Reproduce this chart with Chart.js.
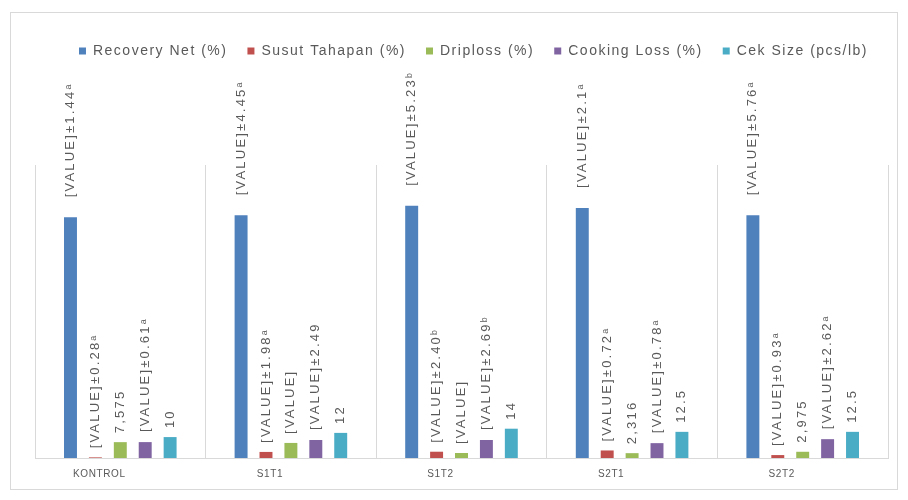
<!DOCTYPE html>
<html>
<head>
<meta charset="utf-8">
<script src="https://cdn.jsdelivr.net/npm/chart.js@4"></script>
<style>
  html, body { margin: 0; padding: 0; background: #fff; }
  #wrap { width: 908px; height: 500px; position: relative; }
</style>
</head>
<body>
<div id="wrap"><canvas id="chart" width="908" height="500"></canvas></div>
<script>
const categories = ['KONTROL', 'S1T1', 'S1T2', 'S2T1', 'S2T2'];

const seriesNames = ['Recovery Net (%)', 'Susut Tahapan (%)', 'Driploss (%)', 'Cooking Loss (%)', 'Cek Size (pcs/lb)'];

const recoveryNet = [115, 116, 120.5, 119.5, 116];
const susutTahapan = [0.3, 2.9, 3.0, 3.6, 1.4];
const driploss = [7.575, 7.2, 2.4, 2.316, 2.975];
const cookingLoss = [7.6, 8.6, 8.6, 7.1, 9.0];
const cekSize = [10, 12, 14, 12.5, 12.5];

// label texts as printed in the source chart
const recoveryLabels = ['[VALUE]±1.44ᵃ', '[VALUE]±4.45ᵃ', '[VALUE]±5.23ᵇ', '[VALUE]±2.1ᵃ', '[VALUE]±5.76ᵃ'];
const susutLabels = ['[VALUE]±0.28ᵃ', '[VALUE]±1.98ᵃ', '[VALUE]±2.40ᵇ', '[VALUE]±0.72ᵃ', '[VALUE]±0.93ᵃ'];
const driplossLabels = ['7,575', '[VALUE]', '[VALUE]', '2,316', '2,975'];
const cookingLabels = ['[VALUE]±0.61ᵃ', '[VALUE]±2.49', '[VALUE]±2.69ᵇ', '[VALUE]±0.78ᵃ', '[VALUE]±2.62ᵃ'];
const cekLabels = ['10', '12', '14', '12.5', '12.5'];

const COLORS = ['#4F81BD', '#C0504D', '#9BBB59', '#8064A2', '#4BACC6'];
const LABEL_GAP = [20, 9, 9, 10, 9];

const allValues = [recoveryNet, susutTahapan, driploss, cookingLoss, cekSize];
const allLabels = [recoveryLabels, susutLabels, driplossLabels, cookingLabels, cekLabels];

// the source text is widely tracked; also draws the outer frame
const spacing = {
    id: 'spacing',
    beforeUpdate(chart) { chart.ctx.letterSpacing = '1.5px'; },
    afterLayout(chart) {
        // legend sits a little right of centre in the source
        chart.legend.left += 12;
        chart.legend.right += 12;
        const xs = chart.scales.x;
        if (!xs._tightLabels) {
            const orig = xs.drawLabels.bind(xs);
            xs.drawLabels = (area) => {
                chart.ctx.letterSpacing = '0.6px';
                orig(area);
                chart.ctx.letterSpacing = '1.5px';
            };
            xs._tightLabels = true;
        }
    },
    beforeDraw(chart) {
        const ctx = chart.ctx;
        ctx.letterSpacing = '1.5px';
        ctx.save();
        ctx.strokeStyle = '#d9d9d9';
        ctx.lineWidth = 1;
        ctx.strokeRect(10.5, 12.5, 887, 477);
        ctx.restore();
    },
};

const valueLabels = {
    id: 'valueLabels',
    afterDatasetsDraw(chart) {
        const ctx = chart.ctx;
        ctx.save();
        ctx.font = '13px "Liberation Sans"';
        ctx.fillStyle = '#595959';
        ctx.letterSpacing = '2.2px';
        chart.data.datasets.forEach((ds, i) => {
            const meta = chart.getDatasetMeta(i);
            meta.data.forEach((bar, j) => {
                ctx.save();
                ctx.translate(bar.x, bar.y - LABEL_GAP[i]);
                ctx.rotate(-Math.PI / 2);
                ctx.textAlign = 'left';
                ctx.textBaseline = 'middle';
                ctx.fillText(allLabels[i][j], 0, 0);
                ctx.restore();
            });
        });
        ctx.restore();
    },
};

// push the plot area down below the legend
const legendSpace = {
    id: 'legendSpace',
    beforeInit(chart) {
        const origFit = chart.legend.fit;
        chart.legend.fit = function () {
            origFit.bind(chart.legend)();
            this.height += 97;
        };
    },
};

new Chart(document.getElementById('chart'), {
    type: 'bar',
    data: {
        labels: categories,
        datasets: seriesNames.map((name, i) => ({
            label: name,
            data: allValues[i],
            backgroundColor: COLORS[i],
            categoryPercentage: 0.73,
            barPercentage: 0.52,
        })),
    },
    options: {
        responsive: false,
        animation: false,
        layout: { padding: { left: 35, right: 20, top: 24, bottom: 10 } },
        plugins: {
            legend: {
                labels: {
                    boxWidth: 7,
                    boxHeight: 7,
                    color: '#595959',
                    font: { family: 'Liberation Sans', size: 14 },
                    padding: 20,
                },
            },
            tooltip: { enabled: false },
        },
        scales: {
            x: {
                grid: { color: '#d9d9d9', drawTicks: false, offset: true },
                border: { color: '#d9d9d9' },
                ticks: {
                    color: '#595959',
                    font: { family: 'Liberation Sans', size: 10 },
                    padding: 10,
                    labelOffset: -21,
                },
            },
            y: {
                display: false,
                min: 0,
                max: 140,
            },
        },
    },
    plugins: [spacing, valueLabels, legendSpace],
});
</script>
</body>
</html>
